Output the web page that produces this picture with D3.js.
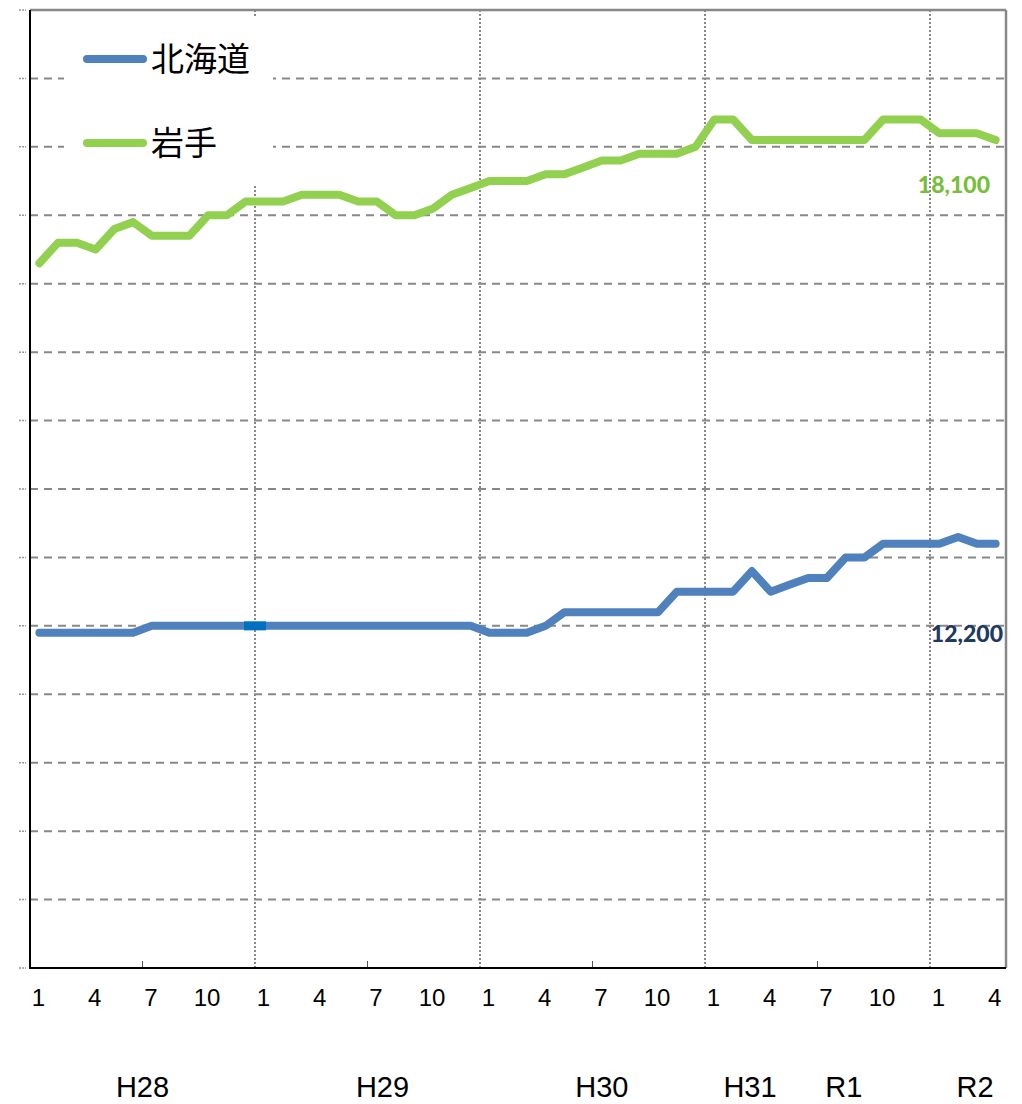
<!DOCTYPE html>
<html><head><meta charset="utf-8">
<script src="https://cdn.jsdelivr.net/npm/d3@7"></script>
<style>body{margin:0;background:#fff}svg{display:block}</style>
</head><body>
<script>
// ---- data ----
const seriesNames = ["北海道", "岩手"];
const hokkaido = [10900,10900,10900,10900,10900,10900,
  11000,11000,11000,11000,11000,11000,11000,11000,11000,11000,11000,11000,11000,11000,11000,11000,11000,11000,
  10900,10900,10900,11000,
  11200,11200,11200,11200,11200,11200,
  11500,11500,11500,11500,11800,11500,11600,11700,11700,12000,12000,
  12200,12200,12200,12200,12300,12200,12200];
const iwate = [16300,16600,16600,16500,16800,16900,16700,16700,16700,17000,17000,17200,
  17200,17200,17300,17300,17300,17200,17200,17000,17000,17100,17300,17400,
  17500,17500,17500,17600,17600,17700,17800,17800,17900,17900,17900,18000,
  18400,18400,18100,18100,18100,18100,18100,18100,18100,18400,18400,18400,
  18200,18200,18200,18100];
const months = [1,2,3,4,5,6,7,8,9,10,11,12,1,2,3,4,5,6,7,8,9,10,11,12,
  1,2,3,4,5,6,7,8,9,10,11,12,1,2,3,4,5,6,7,8,9,10,11,12,1,2,3,4];
const shownMonths = [1,4,7,10];
const yearLabels = ["H28","H29","H30","H31","R1","R2"];
const yearLabelAt = [5.5, 18.3, 30.0, 37.9, 42.9, 49.9];
const endLabels = ["12,200", "18,100"];
const yMin = 6000, yMax = 20000, yStep = 1000;

// ---- layout ----
const W = 1022, H = 1104;
const L = 30, R = 1005, T = 10, B = 968;
const colors = ["#4F81BD", "#92D050"];
const labelColors = ["#1F3A60", "#78BE3C"];

const svg = d3.select("body").append("svg").attr("width", W).attr("height", H);
const x = d3.scaleLinear().domain([0, months.length]).range([L, R]);
const y = d3.scaleLinear().domain([yMin, yMax]).range([B, T]);
const cx = i => x(i + 0.5);

const yTicks = d3.range(yMin, yMax + 1, yStep);

// horizontal dashed gridlines
svg.append("g").selectAll("line").data(yTicks.filter(v => v > yMin && v < yMax)).join("line")
  .attr("x1", L).attr("x2", R).attr("y1", d => y(d)).attr("y2", d => y(d))
  .attr("stroke", "#888").attr("stroke-width", 2).attr("stroke-dasharray", "8,6");

// vertical dotted gridlines at year boundaries
const yearStarts = months.map((m, i) => m === 1 && i > 0 ? i : null).filter(v => v !== null);
svg.append("g").selectAll("line").data(yearStarts).join("line")
  .attr("x1", d => x(d)).attr("x2", d => x(d)).attr("y1", T).attr("y2", B)
  .attr("stroke", "#888").attr("stroke-width", 2).attr("stroke-dasharray", "2,2");

// y tick marks (tiny, left)
svg.append("g").selectAll("line").data(yTicks).join("line")
  .attr("x1", L - 11).attr("x2", L - 4).attr("y1", d => y(d)).attr("y2", d => y(d))
  .attr("stroke", "#999").attr("stroke-width", 1.5).attr("stroke-dasharray", "2,1");

// frame
svg.append("line").attr("x1", L).attr("x2", R + 1).attr("y1", T).attr("y2", T).attr("stroke", "#888").attr("stroke-width", 2.5);
svg.append("line").attr("x1", R + 1).attr("x2", R + 1).attr("y1", T).attr("y2", B).attr("stroke", "#888").attr("stroke-width", 2.5);

// x tick marks (before month 7)
const sevenStarts = months.map((m, i) => m === 7 ? i : null).filter(v => v !== null);
svg.append("g").selectAll("line").data(sevenStarts).join("line")
  .attr("x1", d => x(d)).attr("x2", d => x(d)).attr("y1", B - 7).attr("y2", B)
  .attr("stroke", "#555").attr("stroke-width", 1);

// legend background
svg.append("rect").attr("x", 64).attr("y", 17).attr("width", 209).attr("height", 168).attr("fill", "#fff");

// lines
const lineGen = d3.line().x((d, i) => cx(i)).y(d => y(d));
[hokkaido, iwate].forEach((s, k) => {
  svg.append("path").datum(s).attr("d", lineGen).attr("fill", "none")
    .attr("stroke", colors[k]).attr("stroke-width", 8)
    .attr("stroke-linejoin", "round").attr("stroke-linecap", "round");
});
// small highlighted segment on 北海道 at H29 start
svg.append("rect").attr("x", x(12) - 11).attr("y", y(hokkaido[12]) - 4.5)
  .attr("width", 22).attr("height", 9).attr("fill", "#0070C0");

// axes (black)
svg.append("line").attr("x1", L).attr("x2", L).attr("y1", T).attr("y2", B + 1).attr("stroke", "#000").attr("stroke-width", 2);
svg.append("line").attr("x1", L).attr("x2", R + 1).attr("y1", B).attr("y2", B).attr("stroke", "#000").attr("stroke-width", 2);

// month labels
svg.append("g").selectAll("text").data(months.map((m, i) => ({m, i})).filter(d => shownMonths.includes(d.m))).join("text")
  .attr("x", d => cx(d.i) - 1).attr("y", 1006).attr("text-anchor", "middle")
  .attr("font-family", "Liberation Sans, Arial, sans-serif").attr("font-size", 24).attr("fill", "#000")
  .text(d => d.m);

// year labels
svg.append("g").selectAll("text").data(yearLabels).join("text")
  .attr("x", (d, i) => x(yearLabelAt[i] + 0.5)).attr("y", 1097).attr("text-anchor", "middle")
  .attr("font-family", "Liberation Sans, Arial, sans-serif").attr("font-size", 29).attr("fill", "#000")
  .text(d => d);

// end value labels
const last = months.length - 1;
const endLabelRight = [1003, 990];
const endLabelDy = [98, 53];
[hokkaido, iwate].forEach((s, k) => {
  svg.append("text").attr("x", endLabelRight[k]).attr("y", y(s[last]) + endLabelDy[k])
    .attr("text-anchor", "end").attr("font-family", "Lato, Carlito, sans-serif").attr("font-weight", 900)
    .attr("font-size", 23).attr("fill", labelColors[k]).text(endLabels[k]);
});

// legend
const legY = [59, 143];
seriesNames.forEach((n, k) => {
  svg.append("line").attr("x1", 87).attr("x2", 143).attr("y1", legY[k]).attr("y2", legY[k])
    .attr("stroke", colors[k]).attr("stroke-width", 8).attr("stroke-linecap", "round");
  svg.append("text").attr("x", 151).attr("y", legY[k] + 12).attr("font-family", "Noto Sans CJK JP, sans-serif")
    .attr("font-size", 33).attr("fill", "#000").text(n);
});
</script>
</body></html>
